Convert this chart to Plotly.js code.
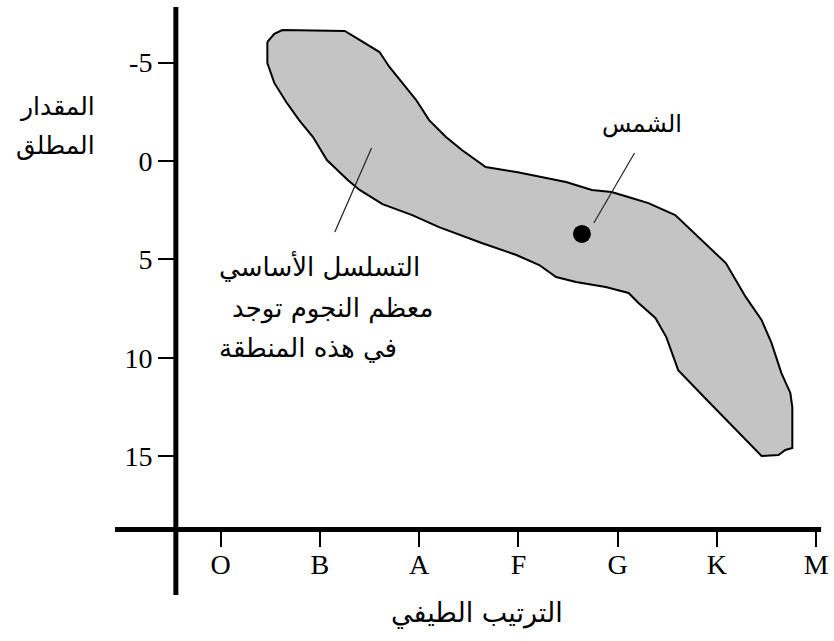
<!DOCTYPE html>
<html><head><meta charset="utf-8">
<script src="https://cdn.plot.ly/plotly-3.0.1.min.js"></script>
<style>html,body{margin:0;padding:0;background:#fff}</style>
</head><body><div id="chart" style="width:834px;height:641px"></div>
<script>
// Spectral classes (x axis) and absolute magnitude ticks (y axis)
const spectralClasses = ['O','B','A','F','G','K','M'];
const classIndex = [0,1,2,3,4,5,6];
const magnitudeTicks = [-5,0,5,10,15];
const magnitudeLabels = ['-5','0','5','10','15'];

// Main-sequence band outline (spectral index, absolute magnitude)
const bandX = [0.47,0.54,0.62,1.25,1.37,1.60,1.70,1.83,1.97,2.10,2.27,2.43,2.67,2.98,3.21,3.48,3.74,3.94,4.14,4.31,4.58,4.81,5.09,5.19,5.29,5.45,5.55,5.65,5.74,5.76,5.76,5.69,5.62,5.45,
               5.39,5.22,5.09,4.88,4.61,4.56,4.49,4.38,4.21,4.11,3.88,3.58,3.38,3.21,2.98,2.63,2.20,1.93,1.80,1.63,1.40,1.28,1.07,0.93,0.79,0.66,0.54,0.47,0.47];
const bandY = [-6.05,-6.46,-6.66,-6.61,-6.25,-5.54,-4.78,-3.97,-3.10,-2.08,-1.22,-0.56,0.31,0.56,0.81,1.07,1.47,1.58,1.88,2.14,2.75,3.86,5.19,6.05,6.91,8.08,9.25,10.78,11.79,12.51,14.59,14.69,14.95,15.00,
               14.69,13.83,13.17,12.05,10.63,9.96,8.95,7.98,7.22,6.71,6.41,6.15,5.90,5.29,4.78,4.17,3.36,2.75,2.49,2.19,1.47,0.97,-0.05,-1.22,-2.08,-3.00,-3.97,-4.98,-6.05];

// The Sun
const sunX = [3.64];
const sunY = [3.71];
const sunLeaderX = [4.17, 3.76];
const sunLeaderY = [-0.41, 3.15];
// Main-sequence label leader
const msLeaderX = [1.52, 1.15];
const msLeaderY = [-0.66, 3.61];

const arFont = 'DejaVu Sans, Noto Sans, sans-serif';
const serif = 'Liberation Serif, DejaVu Serif, serif';

const traces = [
  {x: bandX, y: bandY, type:'scatter', mode:'lines', fill:'toself',
   fillcolor:'#c4c4c4', line:{color:'#000', width:2}, hoverinfo:'skip'},
  {x: sunLeaderX, y: sunLeaderY, type:'scatter', mode:'lines', line:{color:'#222', width:1.2}, hoverinfo:'skip'},
  {x: msLeaderX, y: msLeaderY, type:'scatter', mode:'lines', line:{color:'#222', width:1.2}, hoverinfo:'skip'},
  {x: sunX, y: sunY, type:'scatter', mode:'markers', marker:{color:'#000', size:18}, hoverinfo:'skip'},
  // empty trace so the label-only x axis is drawn
  {x: [null], y: [null], xaxis:'x2', yaxis:'y', type:'scatter', mode:'markers', hoverinfo:'skip'}
];

const xRange = [-1.1156, 6.1397];
const layout = {
  width:834, height:641, autosize:false,
  margin:{l:110, r:4, t:5, b:41, pad:0},
  paper_bgcolor:'#fff', plot_bgcolor:'#fff',
  showlegend:false, hovermode:false,
  xaxis:{range:xRange, anchor:'free', position:0.1185,
    tickmode:'array', tickvals:classIndex, ticktext:spectralClasses,
    ticks:'outside', ticklen:17, tickwidth:2, tickcolor:'#000', showticklabels:false,
    showgrid:false, zeroline:false, showline:false},
  xaxis2:{range:xRange, anchor:'free', overlaying:'x', side:'bottom', position:0.0916,
    tickmode:'array', tickvals:classIndex, ticktext:spectralClasses,
    ticks:'', showgrid:false, zeroline:false, showline:false,
    tickfont:{family:serif, size:28, color:'#000'}},
  yaxis:{range:[22.318,-7.931], anchor:'free', position:0.0917,
    tickmode:'array', tickvals:magnitudeTicks, ticktext:magnitudeLabels,
    ticks:'outside', ticklen:18, tickwidth:2, tickcolor:'#000',
    showgrid:false, zeroline:false, showline:false,
    tickfont:{family:serif, size:28, color:'#000'}},
  shapes:[
    {type:'line', xref:'x', yref:'y', x0:-0.452, x1:-0.452, y0:-7.83, y1:22.06, line:{color:'#000', width:5}},
    {type:'line', xref:'x', yref:'y', x0:-1.065, x1:6.05, y0:18.73, y1:18.73, line:{color:'#000', width:5}}
  ],
  annotations:[
    {xref:'paper', yref:'paper', x:-0.018, y:0.8286, xanchor:'right', yanchor:'middle', showarrow:false,
     text:'المقدار', font:{family:arFont, size:25, color:'#000'}},
    {xref:'paper', yref:'paper', x:-0.018, y:0.7647, xanchor:'right', yanchor:'middle', showarrow:false,
     text:'المطلق', font:{family:arFont, size:25, color:'#000'}},
    {xref:'paper', yref:'paper', x:0.5097, y:-0.0218, xanchor:'center', yanchor:'middle', showarrow:false,
     text:'الترتيب الطيفي', font:{family:arFont, size:27, color:'#000'}},
    {xref:'x', yref:'y', x:4.25, y:-1.88, xanchor:'center', yanchor:'middle', showarrow:false,
     text:'الشمس', font:{family:arFont, size:24, color:'#000'}},
    {xref:'x', yref:'y', x:-0.04, y:5.34, xanchor:'left', yanchor:'middle', showarrow:false,
     text:'التسلسل الأساسي', font:{family:arFont, size:26, color:'#000'}},
    {xref:'x', yref:'y', x:0.09, y:7.52, xanchor:'left', yanchor:'middle', showarrow:false,
     text:'معظم النجوم توجد', font:{family:arFont, size:26, color:'#000'}},
    {xref:'x', yref:'y', x:-0.04, y:9.51, xanchor:'left', yanchor:'middle', showarrow:false,
     text:'في هذه المنطقة', font:{family:arFont, size:26, color:'#000'}}
  ]
};

Plotly.newPlot('chart', traces, layout, {displayModeBar:false, staticPlot:true});
</script></body></html>
